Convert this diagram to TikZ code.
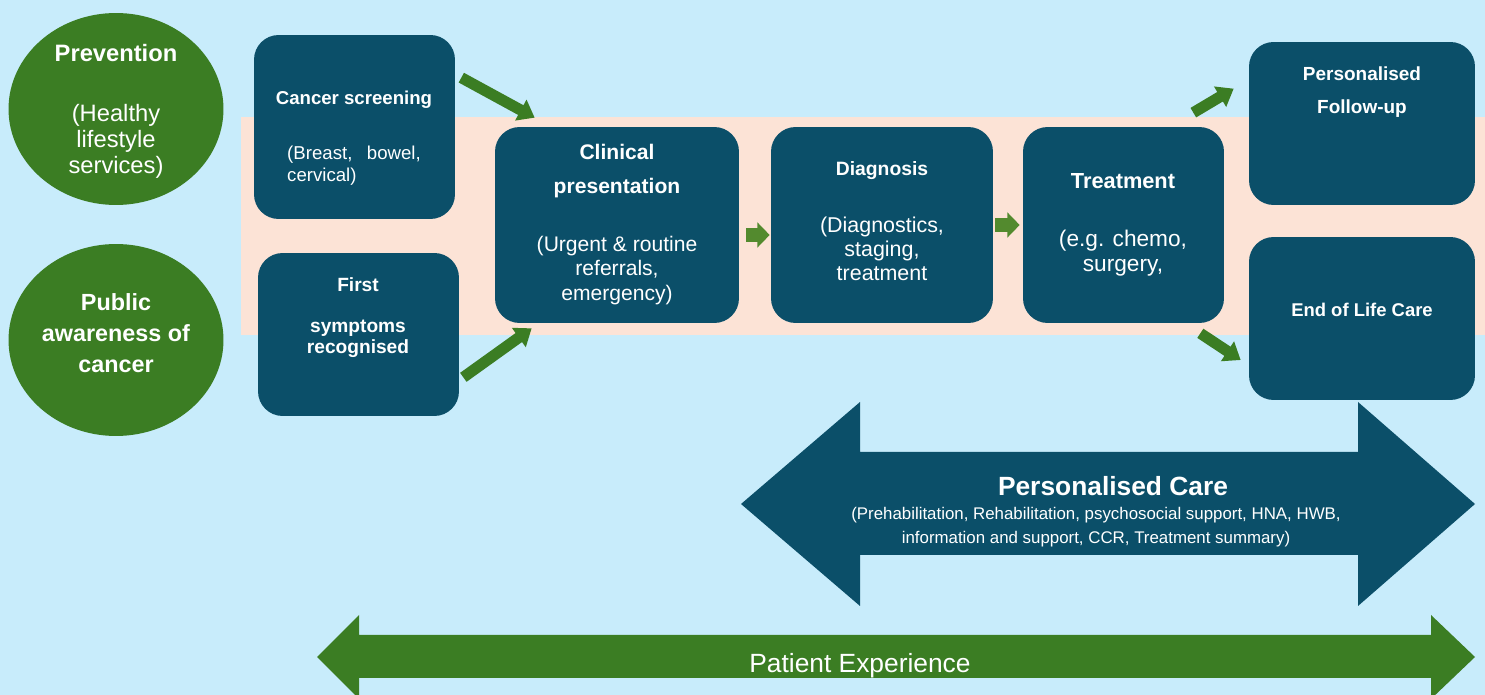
\documentclass[tikz,border=0pt]{standalone}
\usepackage{fontspec}
\setmainfont{Liberation Sans}
\usetikzlibrary{arrows.meta,shapes.geometric}

\definecolor{skyback}{HTML}{C8ECFB}
\definecolor{peach}{HTML}{FCE3D6}
\definecolor{petrol}{HTML}{0B4F69}
\definecolor{leaf}{HTML}{3B7D23}
\definecolor{leaflight}{HTML}{538A2E}

\tikzset{
  stage/.style={rectangle, rounded corners=14pt, fill=petrol, inner sep=0pt},
  entry/.style={ellipse, fill=leaf, inner sep=0pt, minimum width=4.3cm,
    minimum height=3.84cm},
  caption/.style={text=white, align=center, inner sep=0pt},
  flow/.style={draw=leaf, line width=6.3pt, -{Triangle[width=13pt,length=9pt]}},
  hop/.style={draw=leaflight, line width=8pt, -{Triangle[width=14pt,length=7pt]}},
}

\begin{document}
\begin{tikzpicture}[x=0.02cm, y=-0.02cm]
  \clip (0,0) rectangle (1485,695);
  \fill [skyback] (0,0) rectangle (1485,695);
  \fill [peach] (241,117) rectangle (1485,335);

  \fill [petrol]
    (741,504) -- (860,402) -- (860,452) -- (1358,452) -- (1358,402)
    -- (1475,504) -- (1358,606) -- (1358,555) -- (860,555) -- (860,606) -- cycle;
  \fill [leaf]
    (317,657) -- (359,615) -- (359,635) -- (1431,635) -- (1431,615)
    -- (1475,657) -- (1431,699) -- (1431,678) -- (359,678) -- (359,699) -- cycle;

  \node [entry] (prev) at (116,109) {};
  \node [entry] (aware) at (116,340) {};
  \node [caption, font=\fontsize{13.5}{14.8}\selectfont] (prev-t) at (116,111)
    {\textbf{Prevention}\\[19.3pt](Healthy\\lifestyle\\services)};
  \node [caption, font=\bfseries\fontsize{13.3}{17.6}\selectfont] (aware-t) at (116,333)
    {Public\\awareness of\\cancer};

  \node [stage, minimum width=4.02cm, minimum height=3.68cm] (scr) at (354.5,127) {};
  \node [stage, minimum width=4.02cm, minimum height=3.26cm] (sym) at (358.5,334.5) {};
  \node [stage, minimum width=4.88cm, minimum height=3.92cm] (cp) at (617,225) {};
  \node [stage, minimum width=4.44cm, minimum height=3.92cm] (dx) at (882,225) {};
  \node [stage, minimum width=4.02cm, minimum height=3.92cm] (tx) at (1123.5,225) {};
  \node [stage, minimum width=4.52cm, minimum height=3.26cm] (fu) at (1362,123.5) {};
  \node [stage, minimum width=4.52cm, minimum height=3.26cm] (eol) at (1362,318.5) {};

  \node [caption, font=\fontsize{10.6}{12.5}\selectfont] (scr-t) at (354,138)
    {\textbf{Cancer screening}\\[18.8pt]\makebox[76pt][s]{(Breast,\hfill bowel,}\\\makebox[76pt][l]{cervical)}};
  \node [caption, font=\bfseries\fontsize{10.9}{12}\selectfont] (sym-t) at (358,318)
    {First\\[11.3pt]symptoms\\recognised};
  \node [caption, font=\fontsize{12}{14}\selectfont] (cp-t) at (617,224.5)
    {\textbf{Clinical}\\[5.3pt]\textbf{presentation}\\[19pt](Urgent \& routine\\referrals,\\emergency)};
  \node [caption, font=\fontsize{12.2}{13.7}\selectfont] (dx-t) at (882,221.5)
    {{\bfseries\fontsize{11}{13}\selectfont Diagnosis}\\[18.7pt](Diagnostics,\\staging,\\treatment};
  \node [caption, font=\fontsize{12.9}{14.2}\selectfont] (tx-t) at (1123,225)
    {{\bfseries\fontsize{12.4}{14}\selectfont Treatment}\\[18.8pt](e.g. chemo,\\surgery,};
  \node [caption, font=\bfseries\fontsize{10.8}{18.8}\selectfont] (fu-t) at (1362,92)
    {Personalised\\Follow-up};
  \node [caption, font=\bfseries\fontsize{10.5}{12}\selectfont] (eol-t) at (1362,310)
    {End of Life Care};

  \node [caption, font=\bfseries\fontsize{15}{17}\selectfont] (care) at (1113,486)
    {Personalised Care};
  \node [caption, font=\fontsize{9.6}{13.7}\selectfont] (care-t) at (1096,527)
    {(Prehabilitation, Rehabilitation, psychosocial support, HNA, HWB,\\information and support, CCR, Treatment summary)};
  \node [caption, font=\fontsize{15}{17}\selectfont] (px) at (860,666)
    {Patient Experience};

  \draw [flow] ([shift={(6,43)}]scr.north east) -- ([shift={(40,-9)}]cp.north west);
  \draw [flow] ([shift={(4,-39)}]sym.south east) -- ([shift={(37,5)}]cp.south west);
  \draw [hop] ([shift={(7,10)}]cp.east) -- ([shift={(-1,10)}]dx.west);
  \draw [hop] ([shift={(2,0)}]dx.east) -- ([shift={(-3,0)}]tx.west);
  \draw [flow] ([shift={(-31,-14)}]tx.north east) -- ([shift={(-15,47)}]fu.north west);
  \draw [flow] ([shift={(-24,10)}]tx.south east) -- ([shift={(-8,41.5)}]eol.west);
\end{tikzpicture}
\end{document}
